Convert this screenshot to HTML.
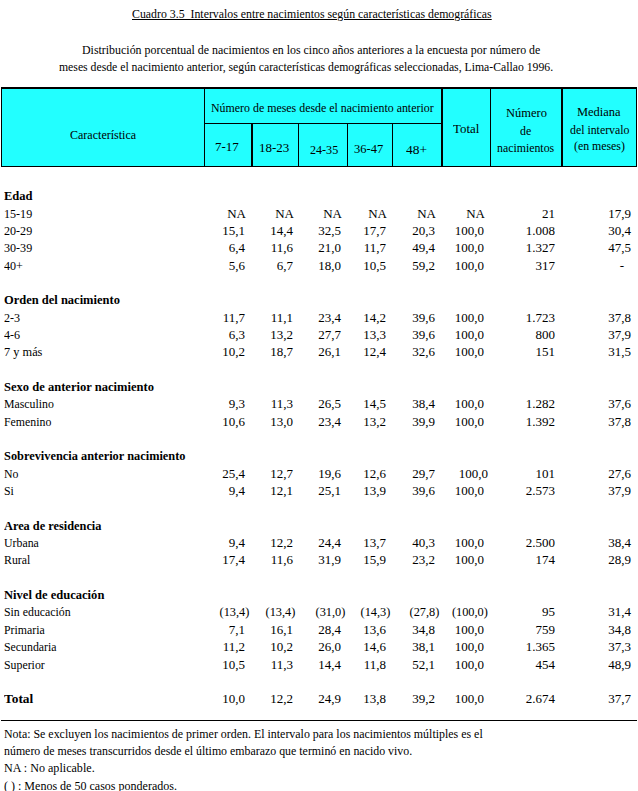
<!DOCTYPE html>
<html><head><meta charset="utf-8"><style>
html,body{margin:0;padding:0;background:#fff;width:638px;height:791px;overflow:hidden;position:relative}
.t{position:absolute;font-family:'Liberation Serif', serif;font-size:13px;line-height:15px;white-space:pre;color:#000}
</style></head><body>
<div class="t" style="top:6px;left:132px;transform:scaleX(0.91);transform-origin:0 0;text-decoration:underline;">Cuadro 3.5&nbsp; Intervalos entre nacimientos según características demográficas</div>
<div class="t" style="top:42px;left:82px;transform:scaleX(0.916);transform-origin:0 0;">Distribución porcentual de nacimientos en los cinco años anteriores a la encuesta por número de</div>
<div class="t" style="top:59px;left:59px;transform:scaleX(0.902);transform-origin:0 0;">meses desde el nacimiento anterior, según características demográficas seleccionadas, Lima-Callao 1996.</div>
<div style="position:absolute;left:1px;top:87px;width:636px;height:80px;background:#000"></div>
<div style="position:absolute;left:2px;top:89px;width:634px;height:77px;background:#22ffff"></div>
<div style="position:absolute;left:204px;top:89px;width:1px;height:77px;background:#000"></div>
<div style="position:absolute;left:251px;top:124px;width:2px;height:42px;background:#000"></div>
<div style="position:absolute;left:298px;top:124px;width:1px;height:42px;background:#000"></div>
<div style="position:absolute;left:347px;top:124px;width:1px;height:42px;background:#000"></div>
<div style="position:absolute;left:392px;top:124px;width:1px;height:42px;background:#000"></div>
<div style="position:absolute;left:441px;top:89px;width:2px;height:77px;background:#000"></div>
<div style="position:absolute;left:490px;top:89px;width:1px;height:77px;background:#000"></div>
<div style="position:absolute;left:561px;top:89px;width:2px;height:77px;background:#000"></div>
<div style="position:absolute;left:204px;top:123px;width:238px;height:1px;background:#000"></div>
<div class="t" style="top:127px;left:70px;transform:scaleX(0.925);transform-origin:0 0;">Característica</div>
<div class="t" style="top:100px;left:211px;transform:scaleX(0.915);transform-origin:0 0;">Número de meses desde el nacimiento anterior</div>
<div class="t" style="top:139px;left:215px;transform:scaleX(1);transform-origin:0 0;">7-17</div>
<div class="t" style="top:140px;left:259px;transform:scaleX(1);transform-origin:0 0;">18-23</div>
<div class="t" style="top:142px;left:310px;transform:scaleX(0.93);transform-origin:0 0;">24-35</div>
<div class="t" style="top:141px;left:354px;transform:scaleX(0.96);transform-origin:0 0;">36-47</div>
<div class="t" style="top:142px;left:406px;transform:scaleX(1.03);transform-origin:0 0;">48+</div>
<div class="t" style="top:121px;left:453px;transform:scaleX(0.99);transform-origin:0 0;">Total</div>
<div class="t" style="top:105px;left:506px;transform:scaleX(0.96);transform-origin:0 0;">Número</div>
<div class="t" style="top:123px;left:520px;transform:scaleX(0.91);transform-origin:0 0;">de</div>
<div class="t" style="top:140px;left:497px;transform:scaleX(0.91);transform-origin:0 0;">nacimientos</div>
<div class="t" style="top:104px;left:577px;transform:scaleX(0.957);transform-origin:0 0;">Mediana</div>
<div class="t" style="top:122px;left:570px;transform:scaleX(0.91);transform-origin:0 0;">del intervalo</div>
<div class="t" style="top:138px;left:574px;transform:scaleX(0.91);transform-origin:0 0;">(en meses)</div>
<div class="t" style="top:188px;font-weight:bold;left:4px;transform:scaleX(0.965);transform-origin:0 0;">Edad</div>
<div class="t" style="top:206px;left:4px;transform:scaleX(0.93);transform-origin:0 0;">15-19</div>
<div class="t" style="top:206px;right:392px;text-align:right;transform:scaleX(1);transform-origin:100% 0;">NA</div>
<div class="t" style="top:206px;right:344px;text-align:right;transform:scaleX(1);transform-origin:100% 0;">NA</div>
<div class="t" style="top:206px;right:296px;text-align:right;transform:scaleX(1);transform-origin:100% 0;">NA</div>
<div class="t" style="top:206px;right:251px;text-align:right;transform:scaleX(1);transform-origin:100% 0;">NA</div>
<div class="t" style="top:206px;right:202px;text-align:right;transform:scaleX(1);transform-origin:100% 0;">NA</div>
<div class="t" style="top:206px;right:153px;text-align:right;transform:scaleX(1);transform-origin:100% 0;">NA</div>
<div class="t" style="top:206px;right:83px;text-align:right;transform:scaleX(1);transform-origin:100% 0;">21</div>
<div class="t" style="top:206px;right:7px;text-align:right;transform:scaleX(1);transform-origin:100% 0;">17,9</div>
<div class="t" style="top:223px;left:4px;transform:scaleX(0.93);transform-origin:0 0;">20-29</div>
<div class="t" style="top:223px;right:393px;text-align:right;transform:scaleX(1);transform-origin:100% 0;">15,1</div>
<div class="t" style="top:223px;right:345px;text-align:right;transform:scaleX(1);transform-origin:100% 0;">14,4</div>
<div class="t" style="top:223px;right:297px;text-align:right;transform:scaleX(1);transform-origin:100% 0;">32,5</div>
<div class="t" style="top:223px;right:252px;text-align:right;transform:scaleX(1);transform-origin:100% 0;">17,7</div>
<div class="t" style="top:223px;right:203px;text-align:right;transform:scaleX(1);transform-origin:100% 0;">20,3</div>
<div class="t" style="top:223px;right:154px;text-align:right;transform:scaleX(1);transform-origin:100% 0;">100,0</div>
<div class="t" style="top:223px;right:83px;text-align:right;transform:scaleX(1);transform-origin:100% 0;">1.008</div>
<div class="t" style="top:223px;right:7px;text-align:right;transform:scaleX(1);transform-origin:100% 0;">30,4</div>
<div class="t" style="top:240px;left:4px;transform:scaleX(0.93);transform-origin:0 0;">30-39</div>
<div class="t" style="top:240px;right:393px;text-align:right;transform:scaleX(1);transform-origin:100% 0;">6,4</div>
<div class="t" style="top:240px;right:345px;text-align:right;transform:scaleX(1);transform-origin:100% 0;">11,6</div>
<div class="t" style="top:240px;right:297px;text-align:right;transform:scaleX(1);transform-origin:100% 0;">21,0</div>
<div class="t" style="top:240px;right:252px;text-align:right;transform:scaleX(1);transform-origin:100% 0;">11,7</div>
<div class="t" style="top:240px;right:203px;text-align:right;transform:scaleX(1);transform-origin:100% 0;">49,4</div>
<div class="t" style="top:240px;right:154px;text-align:right;transform:scaleX(1);transform-origin:100% 0;">100,0</div>
<div class="t" style="top:240px;right:83px;text-align:right;transform:scaleX(1);transform-origin:100% 0;">1.327</div>
<div class="t" style="top:240px;right:7px;text-align:right;transform:scaleX(1);transform-origin:100% 0;">47,5</div>
<div class="t" style="top:258px;left:4px;transform:scaleX(0.93);transform-origin:0 0;">40+</div>
<div class="t" style="top:258px;right:393px;text-align:right;transform:scaleX(1);transform-origin:100% 0;">5,6</div>
<div class="t" style="top:258px;right:345px;text-align:right;transform:scaleX(1);transform-origin:100% 0;">6,7</div>
<div class="t" style="top:258px;right:297px;text-align:right;transform:scaleX(1);transform-origin:100% 0;">18,0</div>
<div class="t" style="top:258px;right:252px;text-align:right;transform:scaleX(1);transform-origin:100% 0;">10,5</div>
<div class="t" style="top:258px;right:203px;text-align:right;transform:scaleX(1);transform-origin:100% 0;">59,2</div>
<div class="t" style="top:258px;right:154px;text-align:right;transform:scaleX(1);transform-origin:100% 0;">100,0</div>
<div class="t" style="top:258px;right:83px;text-align:right;transform:scaleX(1);transform-origin:100% 0;">317</div>
<div class="t" style="top:258px;right:14px;text-align:right;transform:scaleX(1);transform-origin:100% 0;">-</div>
<div class="t" style="top:292px;font-weight:bold;left:4px;transform:scaleX(0.961);transform-origin:0 0;">Orden del nacimiento</div>
<div class="t" style="top:310px;left:4px;transform:scaleX(0.93);transform-origin:0 0;">2-3</div>
<div class="t" style="top:310px;right:393px;text-align:right;transform:scaleX(1);transform-origin:100% 0;">11,7</div>
<div class="t" style="top:310px;right:345px;text-align:right;transform:scaleX(1);transform-origin:100% 0;">11,1</div>
<div class="t" style="top:310px;right:297px;text-align:right;transform:scaleX(1);transform-origin:100% 0;">23,4</div>
<div class="t" style="top:310px;right:252px;text-align:right;transform:scaleX(1);transform-origin:100% 0;">14,2</div>
<div class="t" style="top:310px;right:203px;text-align:right;transform:scaleX(1);transform-origin:100% 0;">39,6</div>
<div class="t" style="top:310px;right:154px;text-align:right;transform:scaleX(1);transform-origin:100% 0;">100,0</div>
<div class="t" style="top:310px;right:83px;text-align:right;transform:scaleX(1);transform-origin:100% 0;">1.723</div>
<div class="t" style="top:310px;right:7px;text-align:right;transform:scaleX(1);transform-origin:100% 0;">37,8</div>
<div class="t" style="top:327px;left:4px;transform:scaleX(0.93);transform-origin:0 0;">4-6</div>
<div class="t" style="top:327px;right:393px;text-align:right;transform:scaleX(1);transform-origin:100% 0;">6,3</div>
<div class="t" style="top:327px;right:345px;text-align:right;transform:scaleX(1);transform-origin:100% 0;">13,2</div>
<div class="t" style="top:327px;right:297px;text-align:right;transform:scaleX(1);transform-origin:100% 0;">27,7</div>
<div class="t" style="top:327px;right:252px;text-align:right;transform:scaleX(1);transform-origin:100% 0;">13,3</div>
<div class="t" style="top:327px;right:203px;text-align:right;transform:scaleX(1);transform-origin:100% 0;">39,6</div>
<div class="t" style="top:327px;right:154px;text-align:right;transform:scaleX(1);transform-origin:100% 0;">100,0</div>
<div class="t" style="top:327px;right:83px;text-align:right;transform:scaleX(1);transform-origin:100% 0;">800</div>
<div class="t" style="top:327px;right:7px;text-align:right;transform:scaleX(1);transform-origin:100% 0;">37,9</div>
<div class="t" style="top:344px;left:4px;transform:scaleX(0.95);transform-origin:0 0;">7 y más</div>
<div class="t" style="top:344px;right:393px;text-align:right;transform:scaleX(1);transform-origin:100% 0;">10,2</div>
<div class="t" style="top:344px;right:345px;text-align:right;transform:scaleX(1);transform-origin:100% 0;">18,7</div>
<div class="t" style="top:344px;right:297px;text-align:right;transform:scaleX(1);transform-origin:100% 0;">26,1</div>
<div class="t" style="top:344px;right:252px;text-align:right;transform:scaleX(1);transform-origin:100% 0;">12,4</div>
<div class="t" style="top:344px;right:203px;text-align:right;transform:scaleX(1);transform-origin:100% 0;">32,6</div>
<div class="t" style="top:344px;right:154px;text-align:right;transform:scaleX(1);transform-origin:100% 0;">100,0</div>
<div class="t" style="top:344px;right:83px;text-align:right;transform:scaleX(1);transform-origin:100% 0;">151</div>
<div class="t" style="top:344px;right:7px;text-align:right;transform:scaleX(1);transform-origin:100% 0;">31,5</div>
<div class="t" style="top:379px;font-weight:bold;left:4px;transform:scaleX(0.965);transform-origin:0 0;">Sexo de anterior nacimiento</div>
<div class="t" style="top:396px;left:4px;transform:scaleX(0.91);transform-origin:0 0;">Masculino</div>
<div class="t" style="top:396px;right:393px;text-align:right;transform:scaleX(1);transform-origin:100% 0;">9,3</div>
<div class="t" style="top:396px;right:345px;text-align:right;transform:scaleX(1);transform-origin:100% 0;">11,3</div>
<div class="t" style="top:396px;right:297px;text-align:right;transform:scaleX(1);transform-origin:100% 0;">26,5</div>
<div class="t" style="top:396px;right:252px;text-align:right;transform:scaleX(1);transform-origin:100% 0;">14,5</div>
<div class="t" style="top:396px;right:203px;text-align:right;transform:scaleX(1);transform-origin:100% 0;">38,4</div>
<div class="t" style="top:396px;right:154px;text-align:right;transform:scaleX(1);transform-origin:100% 0;">100,0</div>
<div class="t" style="top:396px;right:83px;text-align:right;transform:scaleX(1);transform-origin:100% 0;">1.282</div>
<div class="t" style="top:396px;right:7px;text-align:right;transform:scaleX(1);transform-origin:100% 0;">37,6</div>
<div class="t" style="top:414px;left:4px;transform:scaleX(0.91);transform-origin:0 0;">Femenino</div>
<div class="t" style="top:414px;right:393px;text-align:right;transform:scaleX(1);transform-origin:100% 0;">10,6</div>
<div class="t" style="top:414px;right:345px;text-align:right;transform:scaleX(1);transform-origin:100% 0;">13,0</div>
<div class="t" style="top:414px;right:297px;text-align:right;transform:scaleX(1);transform-origin:100% 0;">23,4</div>
<div class="t" style="top:414px;right:252px;text-align:right;transform:scaleX(1);transform-origin:100% 0;">13,2</div>
<div class="t" style="top:414px;right:203px;text-align:right;transform:scaleX(1);transform-origin:100% 0;">39,9</div>
<div class="t" style="top:414px;right:154px;text-align:right;transform:scaleX(1);transform-origin:100% 0;">100,0</div>
<div class="t" style="top:414px;right:83px;text-align:right;transform:scaleX(1);transform-origin:100% 0;">1.392</div>
<div class="t" style="top:414px;right:7px;text-align:right;transform:scaleX(1);transform-origin:100% 0;">37,8</div>
<div class="t" style="top:448px;font-weight:bold;left:4px;transform:scaleX(0.951);transform-origin:0 0;">Sobrevivencia anterior nacimiento</div>
<div class="t" style="top:466px;left:4px;transform:scaleX(0.91);transform-origin:0 0;">No</div>
<div class="t" style="top:466px;right:393px;text-align:right;transform:scaleX(1);transform-origin:100% 0;">25,4</div>
<div class="t" style="top:466px;right:345px;text-align:right;transform:scaleX(1);transform-origin:100% 0;">12,7</div>
<div class="t" style="top:466px;right:297px;text-align:right;transform:scaleX(1);transform-origin:100% 0;">19,6</div>
<div class="t" style="top:466px;right:252px;text-align:right;transform:scaleX(1);transform-origin:100% 0;">12,6</div>
<div class="t" style="top:466px;right:203px;text-align:right;transform:scaleX(1);transform-origin:100% 0;">29,7</div>
<div class="t" style="top:466px;right:150px;text-align:right;transform:scaleX(1);transform-origin:100% 0;">100,0</div>
<div class="t" style="top:466px;right:83px;text-align:right;transform:scaleX(1);transform-origin:100% 0;">101</div>
<div class="t" style="top:466px;right:7px;text-align:right;transform:scaleX(1);transform-origin:100% 0;">27,6</div>
<div class="t" style="top:483px;left:4px;transform:scaleX(0.91);transform-origin:0 0;">Si</div>
<div class="t" style="top:483px;right:393px;text-align:right;transform:scaleX(1);transform-origin:100% 0;">9,4</div>
<div class="t" style="top:483px;right:345px;text-align:right;transform:scaleX(1);transform-origin:100% 0;">12,1</div>
<div class="t" style="top:483px;right:297px;text-align:right;transform:scaleX(1);transform-origin:100% 0;">25,1</div>
<div class="t" style="top:483px;right:252px;text-align:right;transform:scaleX(1);transform-origin:100% 0;">13,9</div>
<div class="t" style="top:483px;right:203px;text-align:right;transform:scaleX(1);transform-origin:100% 0;">39,6</div>
<div class="t" style="top:483px;right:154px;text-align:right;transform:scaleX(1);transform-origin:100% 0;">100,0</div>
<div class="t" style="top:483px;right:83px;text-align:right;transform:scaleX(1);transform-origin:100% 0;">2.573</div>
<div class="t" style="top:483px;right:7px;text-align:right;transform:scaleX(1);transform-origin:100% 0;">37,9</div>
<div class="t" style="top:518px;font-weight:bold;left:4px;transform:scaleX(0.948);transform-origin:0 0;">Area de residencia</div>
<div class="t" style="top:535px;left:4px;transform:scaleX(0.91);transform-origin:0 0;">Urbana</div>
<div class="t" style="top:535px;right:393px;text-align:right;transform:scaleX(1);transform-origin:100% 0;">9,4</div>
<div class="t" style="top:535px;right:345px;text-align:right;transform:scaleX(1);transform-origin:100% 0;">12,2</div>
<div class="t" style="top:535px;right:297px;text-align:right;transform:scaleX(1);transform-origin:100% 0;">24,4</div>
<div class="t" style="top:535px;right:252px;text-align:right;transform:scaleX(1);transform-origin:100% 0;">13,7</div>
<div class="t" style="top:535px;right:203px;text-align:right;transform:scaleX(1);transform-origin:100% 0;">40,3</div>
<div class="t" style="top:535px;right:154px;text-align:right;transform:scaleX(1);transform-origin:100% 0;">100,0</div>
<div class="t" style="top:535px;right:83px;text-align:right;transform:scaleX(1);transform-origin:100% 0;">2.500</div>
<div class="t" style="top:535px;right:7px;text-align:right;transform:scaleX(1);transform-origin:100% 0;">38,4</div>
<div class="t" style="top:552px;left:4px;transform:scaleX(0.91);transform-origin:0 0;">Rural</div>
<div class="t" style="top:552px;right:393px;text-align:right;transform:scaleX(1);transform-origin:100% 0;">17,4</div>
<div class="t" style="top:552px;right:345px;text-align:right;transform:scaleX(1);transform-origin:100% 0;">11,6</div>
<div class="t" style="top:552px;right:297px;text-align:right;transform:scaleX(1);transform-origin:100% 0;">31,9</div>
<div class="t" style="top:552px;right:252px;text-align:right;transform:scaleX(1);transform-origin:100% 0;">15,9</div>
<div class="t" style="top:552px;right:203px;text-align:right;transform:scaleX(1);transform-origin:100% 0;">23,2</div>
<div class="t" style="top:552px;right:154px;text-align:right;transform:scaleX(1);transform-origin:100% 0;">100,0</div>
<div class="t" style="top:552px;right:83px;text-align:right;transform:scaleX(1);transform-origin:100% 0;">174</div>
<div class="t" style="top:552px;right:7px;text-align:right;transform:scaleX(1);transform-origin:100% 0;">28,9</div>
<div class="t" style="top:587px;font-weight:bold;left:4px;transform:scaleX(0.965);transform-origin:0 0;">Nivel de educación</div>
<div class="t" style="top:604px;left:4px;transform:scaleX(0.91);transform-origin:0 0;">Sin educación</div>
<div class="t" style="top:604px;right:389px;text-align:right;transform:scaleX(0.95);transform-origin:100% 0;">(13,4)</div>
<div class="t" style="top:604px;right:343px;text-align:right;transform:scaleX(0.95);transform-origin:100% 0;">(13,4)</div>
<div class="t" style="top:604px;right:293px;text-align:right;transform:scaleX(0.95);transform-origin:100% 0;">(31,0)</div>
<div class="t" style="top:604px;right:248px;text-align:right;transform:scaleX(0.95);transform-origin:100% 0;">(14,3)</div>
<div class="t" style="top:604px;right:199px;text-align:right;transform:scaleX(0.95);transform-origin:100% 0;">(27,8)</div>
<div class="t" style="top:604px;right:150px;text-align:right;transform:scaleX(0.95);transform-origin:100% 0;">(100,0)</div>
<div class="t" style="top:604px;right:83px;text-align:right;transform:scaleX(1);transform-origin:100% 0;">95</div>
<div class="t" style="top:604px;right:7px;text-align:right;transform:scaleX(1);transform-origin:100% 0;">31,4</div>
<div class="t" style="top:622px;left:4px;transform:scaleX(0.91);transform-origin:0 0;">Primaria</div>
<div class="t" style="top:622px;right:393px;text-align:right;transform:scaleX(1);transform-origin:100% 0;">7,1</div>
<div class="t" style="top:622px;right:345px;text-align:right;transform:scaleX(1);transform-origin:100% 0;">16,1</div>
<div class="t" style="top:622px;right:297px;text-align:right;transform:scaleX(1);transform-origin:100% 0;">28,4</div>
<div class="t" style="top:622px;right:252px;text-align:right;transform:scaleX(1);transform-origin:100% 0;">13,6</div>
<div class="t" style="top:622px;right:203px;text-align:right;transform:scaleX(1);transform-origin:100% 0;">34,8</div>
<div class="t" style="top:622px;right:154px;text-align:right;transform:scaleX(1);transform-origin:100% 0;">100,0</div>
<div class="t" style="top:622px;right:83px;text-align:right;transform:scaleX(1);transform-origin:100% 0;">759</div>
<div class="t" style="top:622px;right:7px;text-align:right;transform:scaleX(1);transform-origin:100% 0;">34,8</div>
<div class="t" style="top:639px;left:4px;transform:scaleX(0.91);transform-origin:0 0;">Secundaria</div>
<div class="t" style="top:639px;right:393px;text-align:right;transform:scaleX(1);transform-origin:100% 0;">11,2</div>
<div class="t" style="top:639px;right:345px;text-align:right;transform:scaleX(1);transform-origin:100% 0;">10,2</div>
<div class="t" style="top:639px;right:297px;text-align:right;transform:scaleX(1);transform-origin:100% 0;">26,0</div>
<div class="t" style="top:639px;right:252px;text-align:right;transform:scaleX(1);transform-origin:100% 0;">14,6</div>
<div class="t" style="top:639px;right:203px;text-align:right;transform:scaleX(1);transform-origin:100% 0;">38,1</div>
<div class="t" style="top:639px;right:154px;text-align:right;transform:scaleX(1);transform-origin:100% 0;">100,0</div>
<div class="t" style="top:639px;right:83px;text-align:right;transform:scaleX(1);transform-origin:100% 0;">1.365</div>
<div class="t" style="top:639px;right:7px;text-align:right;transform:scaleX(1);transform-origin:100% 0;">37,3</div>
<div class="t" style="top:657px;left:4px;transform:scaleX(0.91);transform-origin:0 0;">Superior</div>
<div class="t" style="top:657px;right:393px;text-align:right;transform:scaleX(1);transform-origin:100% 0;">10,5</div>
<div class="t" style="top:657px;right:345px;text-align:right;transform:scaleX(1);transform-origin:100% 0;">11,3</div>
<div class="t" style="top:657px;right:297px;text-align:right;transform:scaleX(1);transform-origin:100% 0;">14,4</div>
<div class="t" style="top:657px;right:252px;text-align:right;transform:scaleX(1);transform-origin:100% 0;">11,8</div>
<div class="t" style="top:657px;right:203px;text-align:right;transform:scaleX(1);transform-origin:100% 0;">52,1</div>
<div class="t" style="top:657px;right:154px;text-align:right;transform:scaleX(1);transform-origin:100% 0;">100,0</div>
<div class="t" style="top:657px;right:83px;text-align:right;transform:scaleX(1);transform-origin:100% 0;">454</div>
<div class="t" style="top:657px;right:7px;text-align:right;transform:scaleX(1);transform-origin:100% 0;">48,9</div>
<div class="t" style="top:691px;font-weight:bold;left:4px;transform:scaleX(1.03);transform-origin:0 0;">Total</div>
<div class="t" style="top:691px;right:393px;text-align:right;transform:scaleX(1);transform-origin:100% 0;">10,0</div>
<div class="t" style="top:691px;right:345px;text-align:right;transform:scaleX(1);transform-origin:100% 0;">12,2</div>
<div class="t" style="top:691px;right:297px;text-align:right;transform:scaleX(1);transform-origin:100% 0;">24,9</div>
<div class="t" style="top:691px;right:252px;text-align:right;transform:scaleX(1);transform-origin:100% 0;">13,8</div>
<div class="t" style="top:691px;right:203px;text-align:right;transform:scaleX(1);transform-origin:100% 0;">39,2</div>
<div class="t" style="top:691px;right:154px;text-align:right;transform:scaleX(1);transform-origin:100% 0;">100,0</div>
<div class="t" style="top:691px;right:83px;text-align:right;transform:scaleX(1);transform-origin:100% 0;">2.674</div>
<div class="t" style="top:691px;right:7px;text-align:right;transform:scaleX(1);transform-origin:100% 0;">37,7</div>
<div style="position:absolute;left:1px;top:720px;width:636px;height:1px;background:#000"></div>
<div class="t" style="top:726px;left:4px;transform:scaleX(0.917);transform-origin:0 0;">Nota: Se excluyen los nacimientos de primer orden. El intervalo para los nacimientos múltiples es el</div>
<div class="t" style="top:743px;left:4px;transform:scaleX(0.914);transform-origin:0 0;">número de meses transcurridos desde el último embarazo que terminó en nacido vivo.</div>
<div class="t" style="top:760px;left:4px;transform:scaleX(0.93);transform-origin:0 0;">NA : No aplicable.</div>
<div class="t" style="top:778px;left:4px;transform:scaleX(0.925);transform-origin:0 0;">( ) : Menos de 50 casos ponderados.</div>
</body></html>
